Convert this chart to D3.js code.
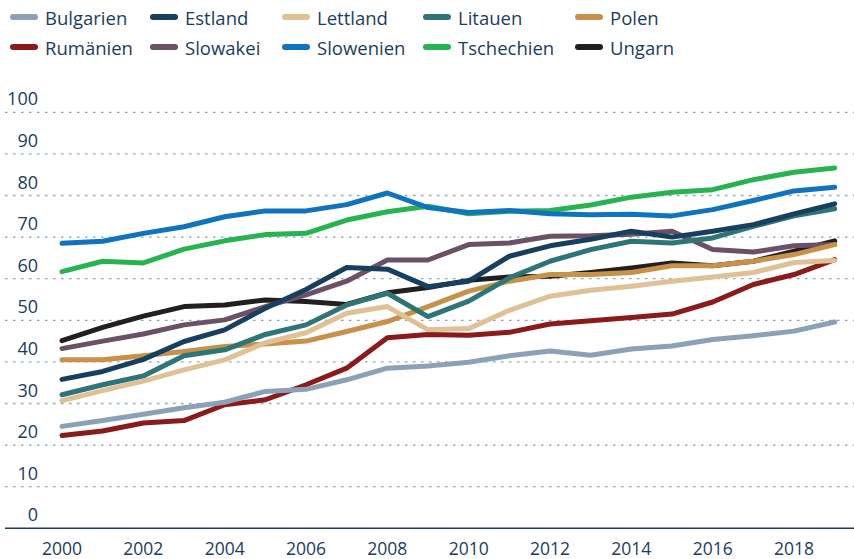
<!DOCTYPE html>
<html>
<head>
<meta charset="utf-8">
<script src="https://cdn.jsdelivr.net/npm/d3@7"></script>
<style>
  html, body { margin: 0; padding: 0; background: #fff; }
  svg { display: block; font-family: "Open Sans", "Noto Sans", sans-serif; }
</style>
</head>
<body>
<svg id="chart" width="854" height="559"></svg>
<script>
const years = d3.range(2000, 2020);
const countries = ["Bulgarien","Estland","Lettland","Litauen","Polen","Rumänien","Slowakei","Slowenien","Tschechien","Ungarn"];
const colors = ["#8aa1b8","#173f5f","#dfc196","#2e7577","#c8914a","#8b1a1a","#6b5068","#0f73bf","#26b350","#231f20"];

const bulgarien  = [24.5,25.9,27.4,29.0,30.3,32.9,33.4,35.7,38.5,39.0,39.9,41.5,42.6,41.6,43.1,43.8,45.4,46.3,47.4,49.6];
const estland    = [35.8,37.7,40.6,44.9,47.7,52.9,57.4,62.7,62.3,58.1,59.4,65.4,67.9,69.5,71.4,70.0,71.4,73.0,75.6,78.0];
const lettland   = [30.7,33.1,35.4,38.1,40.5,44.6,47.0,51.7,53.3,47.7,48.0,52.4,55.8,57.2,58.2,59.4,60.4,61.5,63.9,64.4];
const litauen    = [32.1,34.5,36.6,41.5,42.9,46.6,48.9,53.7,56.5,50.9,54.6,60.2,64.2,67.0,69.0,68.6,69.8,72.6,75.1,76.8];
const polen      = [40.5,40.5,41.5,42.5,43.7,44.3,45.0,47.3,49.7,53.3,57.0,59.4,61.0,61.0,61.5,63.1,63.1,64.2,65.8,68.2];
const rumaenien  = [22.3,23.4,25.3,25.9,29.7,30.9,34.5,38.5,45.8,46.6,46.4,47.1,49.1,49.9,50.7,51.5,54.4,58.6,61.0,64.6];
const slowakei   = [43.2,45.0,46.7,48.9,50.1,53.3,56.1,59.4,64.5,64.5,68.2,68.6,70.2,70.3,70.7,71.4,67.0,66.4,67.9,68.2];
const slowenien  = [68.5,69.0,70.9,72.5,74.9,76.3,76.3,77.8,80.6,77.1,75.9,76.4,75.6,75.4,75.5,75.1,76.6,78.8,81.1,82.0];
const tschechien = [61.7,64.2,63.8,67.1,69.1,70.6,70.9,74.1,76.1,77.4,75.6,76.2,76.4,77.7,79.6,80.8,81.4,83.8,85.6,86.6];
const ungarn     = [45.1,48.3,51.0,53.3,53.7,54.9,54.5,53.8,56.6,57.9,59.6,60.4,60.6,61.5,62.6,63.8,63.1,64.2,66.6,69.1];

const seriesValues = [bulgarien, estland, lettland, litauen, polen, rumaenien, slowakei, slowenien, tschechien, ungarn];
const yTicks = [0,10,20,30,40,50,60,70,80,90,100];
const xTicks = [2000,2002,2004,2006,2008,2010,2012,2014,2016,2018];

const textColor = "#1a3d5e";
const svg = d3.select("#chart");

const x = d3.scaleLinear().domain([2000, 2019]).range([62, 834.7]);
const y = d3.scaleLinear().domain([0, 100]).range([528.3, 112.3]);

// gridlines
svg.append("g").selectAll("line").data(yTicks.filter(d => d > 0)).join("line")
  .attr("x1", 5).attr("x2", 854)
  .attr("y1", d => y(d)).attr("y2", d => y(d))
  .attr("stroke", "#8aa1b8").attr("stroke-width", 1.3)
  .attr("stroke-dasharray", "2.5,5.5");

// y labels
svg.append("g").selectAll("text").data(yTicks).join("text")
  .attr("x", 38).attr("y", d => y(d) - 14)
  .attr("text-anchor", "end").attr("dominant-baseline", "central")
  .attr("fill", textColor).attr("font-size", 18)
  .text(d => d);

// axis line
svg.append("line").attr("x1", 5).attr("x2", 854)
  .attr("y1", y(0)).attr("y2", y(0))
  .attr("stroke", textColor).attr("stroke-width", 1.5);

// x labels
svg.append("g").selectAll("text").data(xTicks).join("text")
  .attr("x", d => x(d)).attr("y", 555)
  .attr("text-anchor", "middle")
  .attr("fill", textColor).attr("font-size", 17.5)
  .text(d => d);

// lines (drawn in reverse order)
const line = d3.line().x((d, i) => x(years[i])).y(d => y(d));
const order = d3.range(countries.length).reverse();
svg.append("g").selectAll("path").data(order).join("path")
  .attr("d", i => line(seriesValues[i]))
  .attr("fill", "none")
  .attr("stroke", i => colors[i])
  .attr("stroke-width", 5)
  .attr("stroke-linejoin", "round")
  .attr("stroke-linecap", "round");

// legend
const legX = [10, 150, 282, 423, 575];
const legY = [17, 47];
const leg = svg.append("g").selectAll("g").data(countries).join("g")
  .attr("transform", (d, i) => `translate(${legX[i % 5]},${legY[Math.floor(i / 5)]})`);
leg.append("line").attr("x1", 3).attr("x2", 25).attr("y1", 0).attr("y2", 0)
  .attr("stroke", (d, i) => colors[i]).attr("stroke-width", 6).attr("stroke-linecap", "round");
leg.append("text").attr("x", 35).attr("y", 0)
  .attr("dominant-baseline", "central")
  .attr("fill", textColor).attr("font-size", 18.5)
  .text(d => d);
</script>
</body>
</html>
